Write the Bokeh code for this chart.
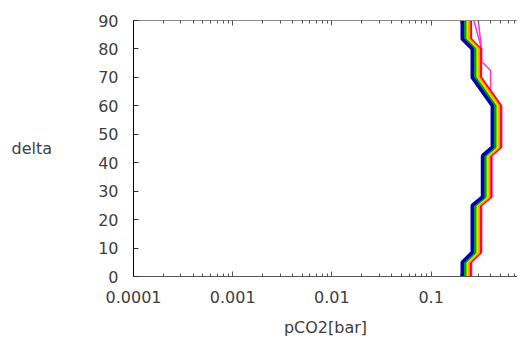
from bokeh.plotting import figure
from bokeh.models import LogAxis, FixedTicker, Range1d, NumeralTickFormatter
from bokeh.embed import file_html
from bokeh.resources import INLINE

# depth levels (delta) at the corners of the profiles
delta = [0, 5, 8.5, 25, 28, 42.5, 45.5, 60, 70, 80, 83.5, 90]

pco2_blue   = [0.206, 0.206, 0.260, 0.260, 0.330, 0.330, 0.414, 0.414, 0.260, 0.260, 0.206, 0.206]
pco2_green  = [0.219, 0.219, 0.276, 0.276, 0.350, 0.350, 0.440, 0.440, 0.276, 0.276, 0.219, 0.219]
pco2_yellow = [0.229, 0.229, 0.289, 0.289, 0.367, 0.367, 0.461, 0.461, 0.289, 0.289, 0.229, 0.229]
pco2_orange = [0.238, 0.238, 0.301, 0.301, 0.382, 0.382, 0.479, 0.479, 0.301, 0.301, 0.240, 0.240]
pco2_red    = [0.248, 0.248, 0.313, 0.313, 0.397, 0.397, 0.498, 0.498, 0.313, 0.313, 0.250, 0.250]

delta_magenta_a = [0, 5, 8.5, 25, 28, 42.5, 45.5, 60, 65.4, 67.2, 72.4, 75.6, 80, 90]
pco2_magenta_a  = [0.255, 0.255, 0.322, 0.322, 0.409, 0.409, 0.513, 0.513, 0.400, 0.398, 0.398, 0.323, 0.323, 0.270]
delta_magenta_b = [0, 5, 8.5, 25, 28, 42.5, 45.5, 60, 70, 80, 90]
pco2_magenta_b  = [0.255, 0.255, 0.322, 0.322, 0.409, 0.409, 0.513, 0.513, 0.322, 0.322, 0.299]

x_major = [0.0001, 0.001, 0.01, 0.1]
y_major = [0, 10, 20, 30, 40, 50, 60, 70, 80, 90]

FONT = "DejaVu Sans"
TXT = "#404040"

x_minor = [m * 10.0 ** e for e in range(-4, 0) for m in range(2, 10)]

p = figure(width=517, height=340, x_axis_type="log",
           x_range=Range1d(1e-4, 0.743), y_range=Range1d(0, 90),
           output_backend="svg", toolbar_location=None,
           min_border_left=133, min_border_right=0,
           min_border_top=20, min_border_bottom=64)
p.outline_line_color = None
p.grid.grid_line_color = None
p.background_fill_color = "white"
p.border_fill_color = "white"

xa = p.xaxis[0]
xa.ticker = FixedTicker(ticks=x_major, minor_ticks=x_minor)
xa.formatter = NumeralTickFormatter(format="0.[0000]")
xa.major_tick_in = 5
xa.major_tick_out = 0
xa.minor_tick_in = 3
xa.minor_tick_out = 0
xa.axis_line_color = "#555555"
xa.major_tick_line_color = "#555555"
xa.minor_tick_line_color = "#555555"
xa.major_label_text_font = FONT
xa.major_label_text_font_size = "16px"
xa.major_label_text_color = TXT
xa.major_label_standoff = 14
xa.axis_label = "pCO2[bar]"
xa.axis_label_standoff = 12
xa.axis_label_text_font = FONT
xa.axis_label_text_font_size = "16px"
xa.axis_label_text_font_style = "normal"
xa.axis_label_text_color = TXT

ya = p.yaxis[0]
ya.ticker = FixedTicker(ticks=y_major, minor_ticks=[])
ya.major_tick_in = 5
ya.major_tick_out = 0
ya.minor_tick_line_color = None
ya.axis_line_color = "#000000"
ya.major_tick_line_color = "#333333"
ya.major_label_text_font = FONT
ya.major_label_text_font_size = "16px"
ya.major_label_text_color = TXT
ya.major_label_standoff = 15
ya.axis_label = "delta"
ya.axis_label_orientation = "horizontal"
ya.axis_label_standoff = 43
ya.axis_label_text_font = FONT
ya.axis_label_text_font_size = "16px"
ya.axis_label_text_font_style = "normal"
ya.axis_label_text_color = TXT

top = LogAxis(ticker=FixedTicker(ticks=x_major, minor_ticks=x_minor))
top.major_label_text_font_size = "2px"
top.major_label_text_color = None
top.major_label_standoff = 0
top.major_tick_in = 5
top.major_tick_out = 0
top.minor_tick_in = 3
top.minor_tick_out = 0
top.axis_line_color = "#8a8a8a"
top.major_tick_line_color = "#555555"
top.minor_tick_line_color = "#555555"
p.add_layout(top, "above")

p.line(pco2_magenta_b, delta_magenta_b, line_color="#ff33cc", line_width=1.5)
p.line(pco2_magenta_a, delta_magenta_a, line_color="#ff33cc", line_width=1.5)
p.line(pco2_red, delta, line_color="#ff0000", line_width=3)
p.line(pco2_orange, delta, line_color="#ff9900", line_width=3)
p.line(pco2_yellow, delta, line_color="#e0e000", line_width=3)
p.line(pco2_green, delta, line_color="#00a000", line_width=3)
p.line(pco2_blue, delta, line_color="#0000b4", line_width=3.5)

open("out.html", "w").write(file_html(p, INLINE))
